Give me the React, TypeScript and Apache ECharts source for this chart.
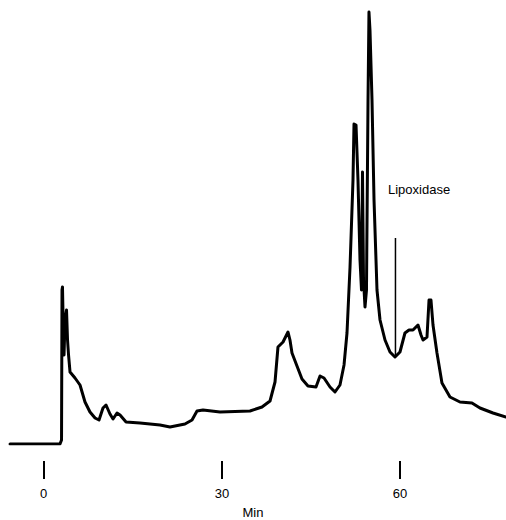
import React, { useEffect, useRef } from "react";
import * as echarts from "echarts";

// Elution time (min) and absorbance (arbitrary units)
const timeMin: number[] = [
  -5.67, 2.74, 3.0, 3.08, 3.16, 3.3, 3.42, 3.59, 3.84, 4.01, 4.18, 4.43, 5.27, 6.11, 6.95,
  7.79, 8.64, 9.31, 9.98, 10.49, 11.16, 11.67, 12.34, 12.85, 13.86, 16.21, 19.58, 21.26,
  23.78, 24.97, 25.81, 26.82, 29.68, 34.73, 36.75, 38.1, 38.94, 39.44, 40.29, 41.13, 41.46,
  41.8, 42.64, 43.48, 44.49, 45.84, 46.52, 47.19, 48.2, 49.04, 49.88, 50.56, 51.06, 51.57,
  52.07, 52.24, 52.58, 52.91, 53.25, 53.5, 53.67, 53.84, 54.09, 54.34, 54.6, 54.76, 54.93,
  55.27, 55.61, 56.11, 56.62, 57.46, 58.3, 59.14, 59.98, 60.82, 61.5, 62.17, 63.01, 63.52,
  63.86, 64.53, 64.87, 65.2, 65.54, 66.21, 67.05, 68.4, 70.08, 72.1, 73.45, 75.64, 77.83,
];
const absorbance: number[] = [
  0, 0, 4, 154, 157, 114, 89, 124, 134, 104, 89, 72, 66, 59, 42,
  32, 26, 24, 36, 39, 30, 25, 31, 29, 22, 21, 19, 17,
  20, 24, 33, 34, 32, 33, 37, 43, 62, 97, 102, 112, 104,
  91, 78, 65, 58, 57, 68, 66, 57, 52, 59, 79, 111, 177,
  264, 320, 319, 264, 184, 154, 272, 164, 137, 154, 344, 432, 414,
  344, 244, 154, 124, 104, 92, 87, 92, 111, 114, 114, 119, 109,
  104, 107, 144, 144, 119, 91, 61, 47, 42, 41, 36, 31, 27,
];

// Lipoxidase activity marker (time, absorbance from–to)
const lipoxTime: number[] = [59.22, 59.22];
const lipoxValue: number[] = [87, 206];
const lipoxLabel = "Lipoxidase";

const tickValues: number[] = [0, 30, 60];
const axisName = "Min";

export default function App() {
  const ref = useRef<HTMLDivElement>(null);
  useEffect(() => {
    document.body.style.margin = "0";
    if (!ref.current) return;
    const chart = echarts.init(ref.current, undefined, { renderer: "svg" });
    const font = "'Liberation Sans', Arial, sans-serif";
    const xMin = -7.36;
    const xMax = 77.83;
    chart.setOption({
      animation: false,
      backgroundColor: "#ffffff",
      grid: [
        { left: 0, right: 0, top: 0, bottom: 76, containLabel: false, outerBoundsMode: "none" },
        { left: 0, right: 0, top: 461, height: 18, containLabel: false, outerBoundsMode: "none" },
      ],
      xAxis: [
        {
          type: "value",
          gridIndex: 0,
          min: xMin,
          max: xMax,
          splitLine: { show: false },
          axisLine: { show: false },
          axisTick: { show: false },
          axisLabel: {
            show: true,
            customValues: tickValues,
            margin: 43,
            color: "#000",
            fontSize: 13,
            fontFamily: font,
          },
          name: axisName,
          nameLocation: "middle",
          nameGap: 62,
          nameTextStyle: { color: "#000", fontSize: 13, fontFamily: font },
        },
        {
          type: "value",
          gridIndex: 1,
          min: xMin,
          max: xMax,
          splitNumber: 3,
          axisLine: { show: false },
          axisTick: { show: false },
          axisLabel: { show: false },
          splitLine: {
            show: true,
            showMinLine: false,
            showMaxLine: false,
            lineStyle: { color: "#000", width: 2, type: "solid" },
          },
        },
      ],
      yAxis: [
        { type: "value", gridIndex: 0, min: 0, max: 444, show: false, splitLine: { show: false } },
        { type: "value", gridIndex: 1, min: 0, max: 1, show: false, splitLine: { show: false } },
      ],
      graphic: [
        {
          type: "text",
          left: 388,
          top: 183,
          style: { text: lipoxLabel, fill: "#000", fontSize: 13, fontFamily: font },
        },
      ],
      series: [
        {
          type: "line",
          data: timeMin.map((t, i) => [t, absorbance[i]]),
          showSymbol: false,
          smooth: false,
          lineStyle: { color: "#000", width: 3, join: "round", cap: "round" },
          silent: true,
        },
        {
          type: "line",
          data: lipoxTime.map((t, i) => [t, lipoxValue[i]]),
          showSymbol: false,
          lineStyle: { color: "#000", width: 1.5 },
          silent: true,
        },
      ],
    });
    return () => chart.dispose();
  }, []);
  return <div ref={ref} style={{ width: 506, height: 520 }} />;
}
